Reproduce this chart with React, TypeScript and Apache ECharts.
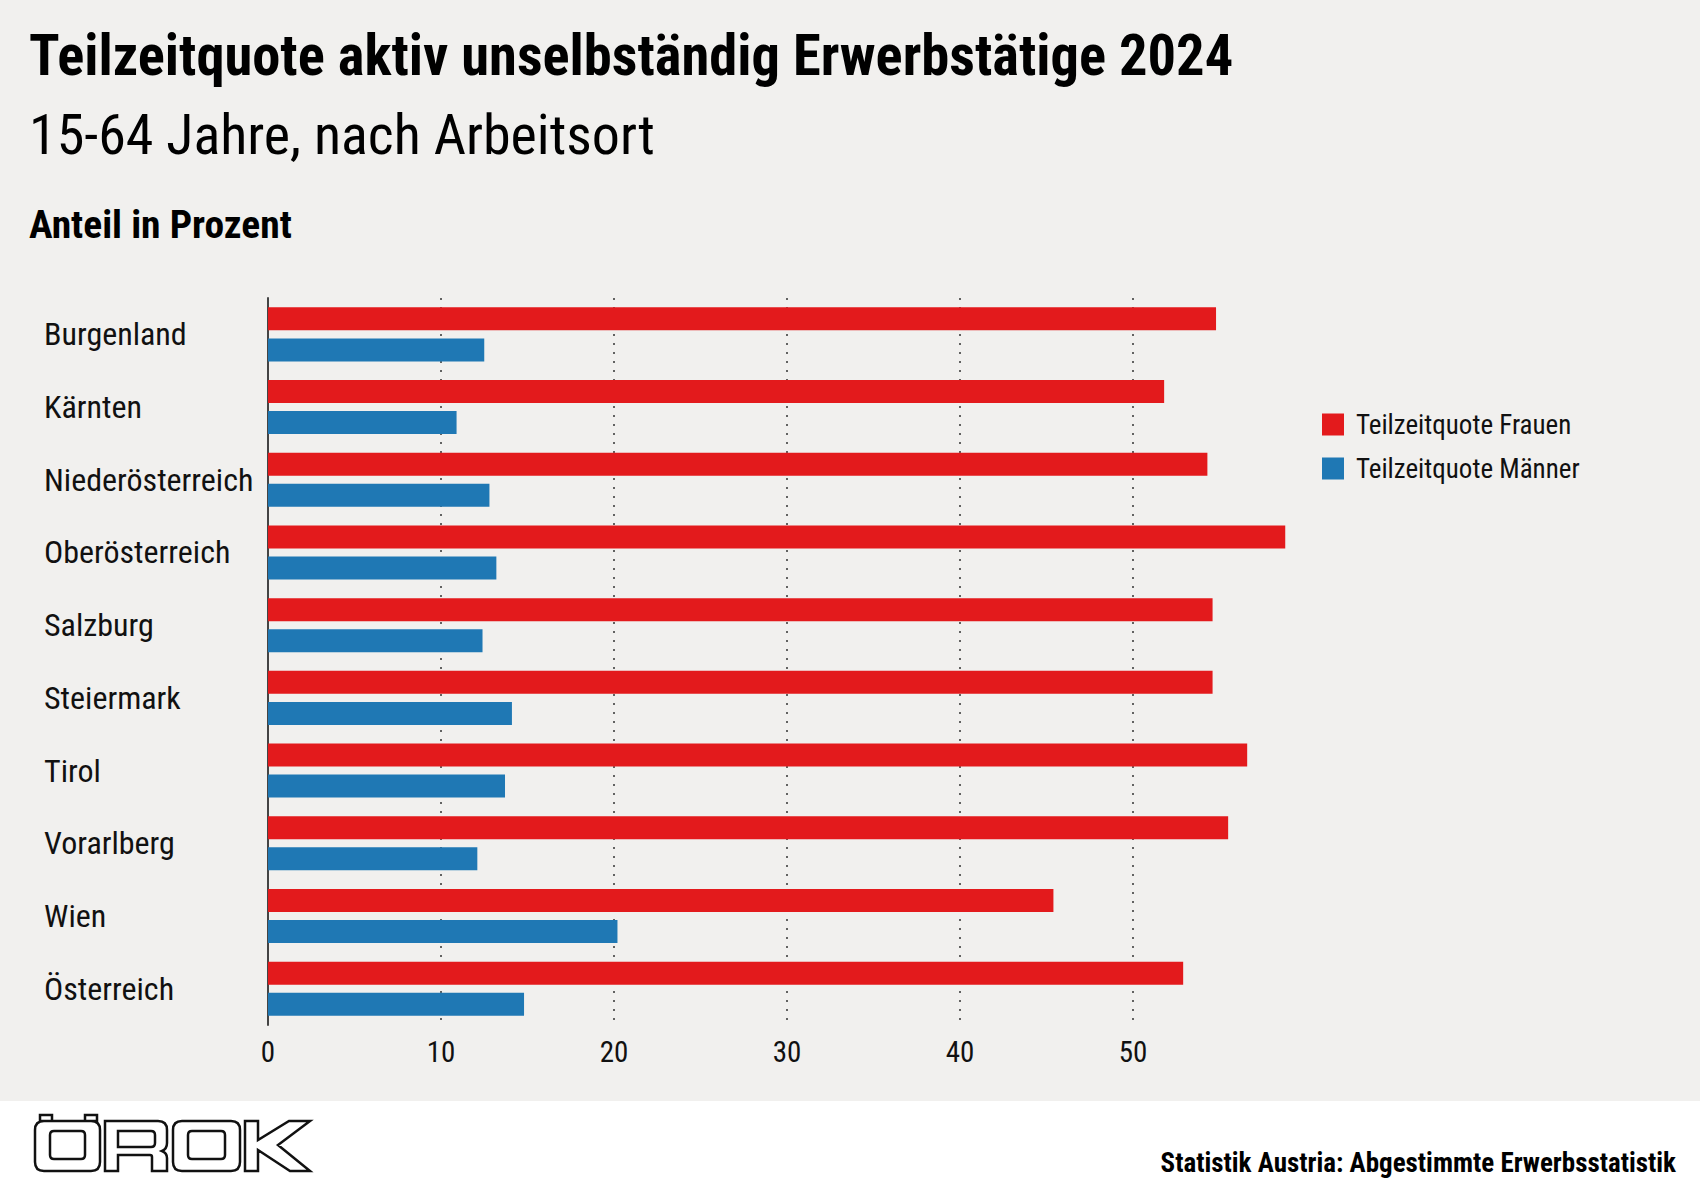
import React, { useEffect, useRef } from "react";
import * as echarts from "echarts";

const categories = [
  "Burgenland",
  "Kärnten",
  "Niederösterreich",
  "Oberösterreich",
  "Salzburg",
  "Steiermark",
  "Tirol",
  "Vorarlberg",
  "Wien",
  "Österreich",
];
const frauen = [54.8, 51.8, 54.3, 58.8, 54.6, 54.6, 56.6, 55.5, 45.4, 52.9];
const maenner = [12.5, 10.9, 12.8, 13.2, 12.4, 14.1, 13.7, 12.1, 20.2, 14.8];
const seriesNames = ["Teilzeitquote Frauen", "Teilzeitquote Männer"];
const xTicks = [0, 10, 20, 30, 40, 50];

const titleText = "Teilzeitquote aktiv unselbständig Erwerbstätige 2024";
const subtitleText = "15-64 Jahre, nach Arbeitsort";
const unitText = "Anteil in Prozent";
const sourceText = "Statistik Austria: Abgestimmte Erwerbsstatistik";

const FONT = "'Roboto Condensed', 'Liberation Sans Narrow', 'DejaVu Sans Condensed', Roboto, sans-serif";
const RED = "#e31a1c";
const BLUE = "#1f78b4";
const BG = "#f1f0ee";

const logoPath =
  "M44,1121 H91 Q100,1121 100,1130 V1162 Q100,1171 91,1171 H44 Q35,1171 35,1162 V1130 Q35,1121 44,1121 Z " +
  "M54,1131 H81 Q85,1131 85,1135 V1155 Q85,1159 81,1159 H54 Q50,1159 50,1155 V1135 Q50,1131 54,1131 Z " +
  "M40,1115 H52 V1121 H40 Z M85,1115 H97 V1121 H85 Z " +
  "M105,1121 H158 Q167,1121 167,1130 V1143 Q167,1149 162,1151 Q167,1153 167,1158 V1171 H152 V1157 Q152,1155 150,1155 H118 V1171 H105 Z " +
  "M118,1131 H151 Q155,1131 155,1135 V1143 Q155,1147 151,1147 H118 Z " +
  "M182,1121 H231 Q240,1121 240,1130 V1162 Q240,1171 231,1171 H182 Q173,1171 173,1162 V1130 Q173,1121 182,1121 Z " +
  "M192,1131 H221 Q225,1131 225,1135 V1155 Q225,1159 221,1159 H192 Q188,1159 188,1155 V1135 Q188,1131 192,1131 Z " +
  "M245,1121 H258 V1140 L289,1121 H310 L278,1145 L310,1171 H290 L258,1150 V1171 H245 Z";

echarts.graphic.registerShape("orokLogo", echarts.graphic.extendPath(logoPath, {}));

export default function App() {
  const ref = useRef<HTMLDivElement>(null);

  useEffect(() => {
    if (!ref.current) return;
    const chart = echarts.init(ref.current, null, { renderer: "svg" });
    chart.setOption({
      animation: false,
      backgroundColor: BG,
      textStyle: { fontFamily: FONT },
      grid: { left: 268, top: 298, width: 1038, height: 727, containLabel: false },
      legend: {
        orient: "vertical",
        left: 1322,
        top: 411,
        padding: 0,
        itemWidth: 22,
        itemHeight: 22,
        itemGap: 17,
        icon: "rect",
        data: seriesNames,
        textStyle: {
          fontFamily: FONT,
          fontSize: 27,
          color: "#111",
          padding: [0, 0, 0, 7],
        },
      },
      xAxis: {
        type: "value",
        min: 0,
        max: 60,
        interval: 10,
        axisLine: { show: false },
        axisTick: { show: false },
        axisLabel: {
          fontFamily: FONT,
          fontSize: 29,
          color: "#111",
          margin: 12,
          showMaxLabel: false,
          formatter: (v: number) => (xTicks.includes(v) ? String(v) : ""),
        },
        splitLine: {
          show: true,
          showMinLine: false,
          showMaxLine: false,
          lineStyle: { color: "#333", width: 1.5, type: [2, 7] },
        },
      },
      yAxis: {
        type: "category",
        data: categories,
        inverse: true,
        axisLine: { show: true, lineStyle: { color: "#444", width: 2 } },
        axisTick: { show: false },
        axisLabel: {
          align: "left",
          margin: 224,
          fontFamily: FONT,
          fontSize: 32,
          color: "#111",
          padding: [0, 0, 8, 0],
        },
        splitLine: { show: false },
      },
      series: [
        {
          name: seriesNames[0],
          type: "bar",
          data: frauen,
          barWidth: 23,
          barGap: "35%",
          itemStyle: { color: RED },
        },
        {
          name: seriesNames[1],
          type: "bar",
          data: maenner,
          barWidth: 23,
          barGap: "35%",
          itemStyle: { color: BLUE },
        },
      ],
      graphic: [
        {
          type: "rect",
          shape: { x: 0, y: 1101, width: 1700, height: 86 },
          style: { fill: "#ffffff" },
          silent: true,
        },
        {
          type: "orokLogo",
          x: 0,
          y: 0,
          style: { fill: "#ffffff", stroke: "#111", lineWidth: 2.5 },
          silent: true,
        },
        {
          type: "text",
          x: 29,
          y: 56,
          style: {
            text: titleText,
            font: `bold 56.5px ${FONT}`,
            fill: "#000",
            verticalAlign: "middle",
          },
        },
        {
          type: "text",
          x: 29,
          y: 135,
          style: {
            text: subtitleText,
            font: `normal 56px ${FONT}`,
            fill: "#000",
            verticalAlign: "middle",
          },
        },
        {
          type: "text",
          x: 29,
          y: 224,
          style: {
            text: unitText,
            font: `bold 39.5px ${FONT}`,
            fill: "#000",
            verticalAlign: "middle",
          },
        },
        {
          type: "text",
          x: 1676,
          y: 1163,
          style: {
            text: sourceText,
            font: `bold 27px ${FONT}`,
            fill: "#000",
            align: "right",
            verticalAlign: "middle",
          },
        },
      ],
    });
    return () => chart.dispose();
  }, []);

  return (
    <div
      ref={ref}
      style={{ position: "fixed", left: 0, top: 0, width: 1700, height: 1187 }}
    />
  );
}
